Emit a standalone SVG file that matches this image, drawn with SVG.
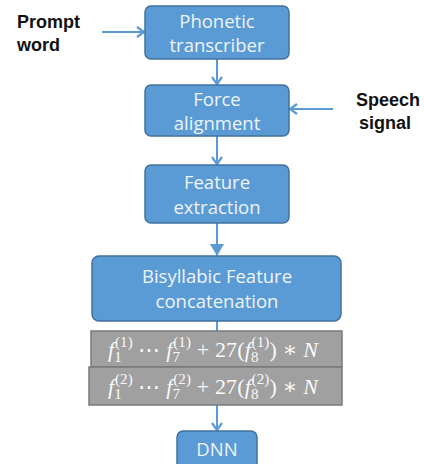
<svg xmlns="http://www.w3.org/2000/svg" width="424" height="464" viewBox="0 0 424 464">
<style>
.box{fill:#5b9bd5;stroke:#41719c;stroke-width:1.5}
.bt{font-family:"Open Sans","Liberation Sans",sans-serif;font-size:18.5px;fill:#eef4fb;text-anchor:middle}
.lbl{font-family:"Liberation Sans",sans-serif;font-weight:bold;font-size:18px;fill:#111}
.gray{fill:#a0a0a0;stroke:#7a7a7a;stroke-width:1.5}
.math{font-family:"Liberation Serif","DejaVu Serif",serif;font-size:22px;fill:#fafafa}
.math .i{font-style:italic}
.sm{font-size:15px}
.ln{stroke:#5b9bd5;stroke-width:2;fill:none}
</style>
<defs>
<marker id="v" markerWidth="12" markerHeight="12" refX="9" refY="6" orient="auto" markerUnits="userSpaceOnUse">
<path d="M2,1 L9,6 L2,11" fill="none" stroke="#5b9bd5" stroke-width="2.2"/>
</marker>
<marker id="tri" markerWidth="14" markerHeight="14" refX="12" refY="7" orient="auto" markerUnits="userSpaceOnUse">
<path d="M0,0 L12,7 L0,14 Z" fill="#5b9bd5"/>
</marker>
</defs>
<g id="connectors">
<line class="ln" x1="102" y1="32" x2="144" y2="32" marker-end="url(#v)"/>
<line class="ln" x1="333" y1="109" x2="290" y2="109" marker-end="url(#v)"/>
<line class="ln" x1="217" y1="59" x2="217" y2="84" marker-end="url(#v)"/>
<line class="ln" x1="217" y1="136" x2="217" y2="164" marker-end="url(#v)"/>
<line class="ln" x1="217" y1="223" x2="217" y2="256" marker-end="url(#tri)"/>
<line class="ln" x1="217" y1="321" x2="217" y2="331"/>
<line class="ln" x1="217" y1="405" x2="217" y2="430" marker-end="url(#v)"/>
</g>
<g id="prompt"><text class="lbl" x="17" y="28">Prompt</text><text class="lbl" x="17" y="51">word</text></g>
<g id="speech"><text class="lbl" x="356" y="106">Speech</text><text class="lbl" x="359" y="129">signal</text></g>
<g id="phonetic"><rect class="box" x="145" y="6" width="144" height="53" rx="6"/><text class="bt" x="217" y="28">Phonetic</text><text class="bt" x="217" y="52">transcriber</text></g>
<g id="force"><rect class="box" x="145" y="85" width="144" height="51" rx="6"/><text class="bt" x="217" y="106">Force</text><text class="bt" x="217" y="130">alignment</text></g>
<g id="feature"><rect class="box" x="145" y="165" width="144" height="58" rx="6"/><text class="bt" x="217" y="189">Feature</text><text class="bt" x="217" y="214">extraction</text></g>
<g id="bisyllabic"><rect class="box" x="92" y="256" width="249" height="65" rx="7"/><text class="bt" x="217" y="283">Bisyllabic Feature</text><text class="bt" x="217" y="308">concatenation</text></g>
<g id="row1"><rect class="gray" x="91" y="331" width="251" height="36"/>
<text class="math" x="108" y="357" textLength="210"><tspan class="i">f</tspan><tspan class="sm" dy="5">1</tspan><tspan class="sm" dx="-7" dy="-15">(1)</tspan><tspan dy="10"> ⋯ </tspan><tspan class="i">f</tspan><tspan class="sm" dy="5">7</tspan><tspan class="sm" dx="-7" dy="-15">(1)</tspan><tspan dy="10"> + 27(</tspan><tspan class="i">f</tspan><tspan class="sm" dy="5">8</tspan><tspan class="sm" dx="-7" dy="-15">(1)</tspan><tspan dy="10">) ∗ </tspan><tspan class="i">N</tspan></text></g>
<g id="row2"><rect class="gray" x="89" y="367" width="253" height="38"/>
<text class="math" x="108" y="394" textLength="210"><tspan class="i">f</tspan><tspan class="sm" dy="5">1</tspan><tspan class="sm" dx="-7" dy="-15">(2)</tspan><tspan dy="10"> ⋯ </tspan><tspan class="i">f</tspan><tspan class="sm" dy="5">7</tspan><tspan class="sm" dx="-7" dy="-15">(2)</tspan><tspan dy="10"> + 27(</tspan><tspan class="i">f</tspan><tspan class="sm" dy="5">8</tspan><tspan class="sm" dx="-7" dy="-15">(2)</tspan><tspan dy="10">) ∗ </tspan><tspan class="i">N</tspan></text></g>
<g id="dnn"><rect class="box" x="177" y="431" width="80" height="40" rx="6"/><text class="bt" x="217" y="456">DNN</text></g>
</svg>
